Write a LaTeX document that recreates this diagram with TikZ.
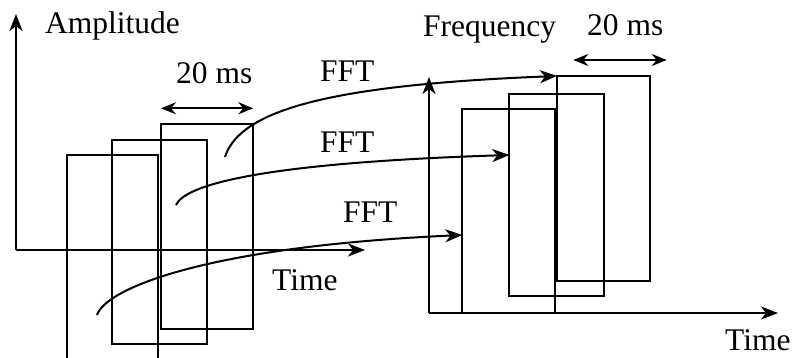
\documentclass[tikz,border=0pt]{standalone}
\usepackage{fontspec}
\setmainfont{Liberation Serif}
\usetikzlibrary{arrows.meta}

\begin{document}
\begin{tikzpicture}[x=1pt,y=-1pt,
      win/.style={line width=2pt},
      ax/.style={-{Stealth[length=17pt,width=13pt,inset=5pt]},line width=2pt},
      span/.style={{Stealth[length=15pt,width=12pt,inset=5pt]}-{Stealth[length=15pt,width=12pt,inset=5pt]},line width=2pt},
      lbl/.style={anchor=base west,inner sep=0pt,font=\fontsize{31.5}{36}\selectfont}]
      \useasboundingbox (0,0) rectangle (797,358);
      % time axes and frames
      \coordinate (o1) at (16,250);
      \coordinate (o2) at (429,313);
      \draw[ax] (o1)--(16,14);
      \draw[ax] (o1)--(365,250);
      \draw[win] (66.7,358)--(66.7,155)--(157.7,155)--(157.7,358);
      \draw[win] (112.3,140.3) rectangle (206.7,344);
      \draw[win] (161,124.3) rectangle (253.3,329.3);
      \draw[span] (161,108.3)--(253.3,108.3);
      % spectra
      \draw[ax] (o2)--(429,77);
      \draw[ax] (o2)--(778,313);
      \draw[win] (462.3,108.7) rectangle (555.3,312.7);
      \draw[win] (509.3,94) rectangle (604,295.7);
      \draw[win] (557.3,76) rectangle (650,280.7);
      \draw[span] (573.3,60)--(666.7,60);
      % fft links
      \coordinate (s1) at (225,157);
      \coordinate (e1) at (557,76);
      \coordinate (s2) at (176,205);
      \coordinate (e2) at (509.3,155);
      \coordinate (s3) at (97,315);
      \coordinate (e3) at (462.3,235);
      \draw[ax] (s1) .. controls (240,110) and (330,85) .. (e1);
      \draw[ax] (s2) .. controls (185,185) and (260,163) .. (e2);
      \draw[ax] (s3) .. controls (105,290) and (200,247) .. (e3);
      % labels
      \node[lbl] (amp) at (45,34) {Amplitude};
      \node[lbl] (freq) at (423,37) {Frequency};
      \node[lbl] (tleft) at (272,290) {Time};
      \node[lbl] (tright) at (725,350) {Time};
      \node[lbl] (msleft) at (176,84) {20 ms};
      \node[lbl] (msright) at (587,36) {20 ms};
      \node[lbl] (fftA) at (320,82) {FFT};
      \node[lbl] (fftB) at (320,153) {FFT};
      \node[lbl] (fftC) at (343,222) {FFT};
    \end{tikzpicture}
\end{document}
